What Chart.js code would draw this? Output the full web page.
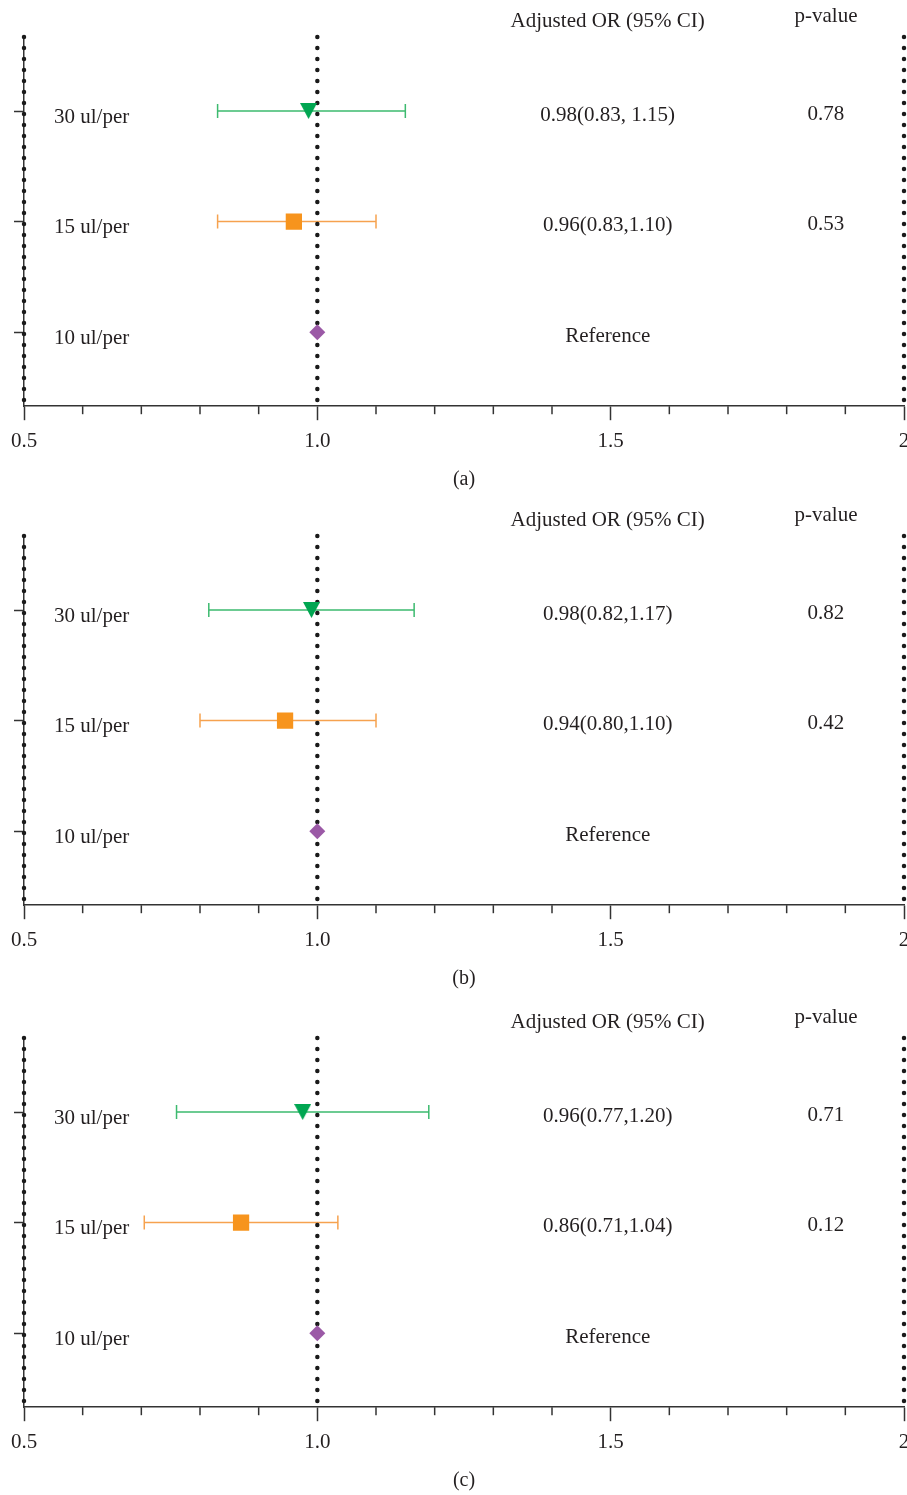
<!DOCTYPE html>
<html>
<head>
<meta charset="utf-8">
<script src="https://cdn.jsdelivr.net/npm/chart.js@4.4.1/dist/chart.umd.min.js"></script>
<style>
    body { margin: 0; background: #fff; width: 907px; height: 1495px; overflow: hidden; position: relative; }
    .panel { position: absolute; left: 0; width: 907px; height: 500px; }
</style>
</head>
<body>
<div class="panel" style="top:0px"><canvas id="chartA" width="907" height="500"></canvas></div>
<div class="panel" style="top:499px"><canvas id="chartB" width="907" height="500"></canvas></div>
<div class="panel" style="top:1001px"><canvas id="chartC" width="907" height="500"></canvas></div>
<script>
// rows from bottom to top
const rowValues = [1, 2, 3];
const categories = ['10 ul/per', '15 ul/per', '30 ul/per'];
const xTickValues = [0.5, 1.0, 1.5, 2];
const xTickLabels = ['0.5', '1.0', '1.5', '2'];
const refLines = [0.5, 1, 2];
const headerOR = 'Adjusted OR (95% CI)';
const headerP = 'p-value';

// panel (a)
const estA = [1, 0.96, 0.985];
const lowA = [null, 0.83, 0.83];
const highA = [null, 1.10, 1.15];
const orTextA = ['Reference', '0.96(0.83,1.10)', '0.98(0.83, 1.15)'];
const pTextA = ['', '0.53', '0.78'];

// panel (b)
const estB = [1, 0.945, 0.99];
const lowB = [null, 0.80, 0.815];
const highB = [null, 1.10, 1.165];
const orTextB = ['Reference', '0.94(0.80,1.10)', '0.98(0.82,1.17)'];
const pTextB = ['', '0.42', '0.82'];

// panel (c)
const estC = [1, 0.87, 0.975];
const lowC = [null, 0.705, 0.76];
const highC = [null, 1.035, 1.19];
const orTextC = ['Reference', '0.86(0.71,1.04)', '0.96(0.77,1.20)'];
const pTextC = ['', '0.12', '0.71'];

const FONT = '"Liberation Serif", "DejaVu Serif", serif';
const TEXT_COLOR = '#231f20';
const AXIS_COLOR = '#333333';
const Y_MIN = 0.33;
const Y_MAX = 3.67;

// down triangle drawn centered in its own box (chart.js triangle sits on its centroid)
function makeDownTriangle(w, h, color) {
    const c = document.createElement('canvas');
    c.width = w;
    c.height = h;
    const g = c.getContext('2d');
    g.fillStyle = color;
    g.beginPath();
    g.moveTo(0, 0);
    g.lineTo(w, 0);
    g.lineTo(w / 2, h);
    g.closePath();
    g.fill();
    return c;
}

// marker styles per row (10, 15, 30)
const markerColors = ['#9b59a6', '#f7941d', '#00a651'];
const markerStyles = ['rectRot', 'rect', makeDownTriangle(17, 16, markerColors[2])];
const markerRadius = [8, 11.5, 9];
const barColors = ['#9b59a6', '#f6a24f', '#3dba6f'];

function isMajor(value) {
    return xTickValues.some(v => Math.abs(v - value) < 1e-6);
}

// Error bars drawn under the markers
const errorBarPlugin = {
    id: 'errorBars',
    beforeDatasetsDraw(chart) {
        const { ctx, scales: { x, y } } = chart;
        const p = chart.options.plugins.errorBars;
        ctx.save();
        ctx.lineWidth = 1.5;
        rowValues.forEach((row, i) => {
            if (p.low[i] == null) return;
            const py = y.getPixelForValue(row);
            const x1 = x.getPixelForValue(p.low[i]);
            const x2 = x.getPixelForValue(p.high[i]);
            ctx.strokeStyle = barColors[i];
            ctx.beginPath();
            ctx.moveTo(x1, py);
            ctx.lineTo(x2, py);
            ctx.moveTo(x1, py - 7);
            ctx.lineTo(x1, py + 7);
            ctx.moveTo(x2, py - 7);
            ctx.lineTo(x2, py + 7);
            ctx.stroke();
        });
        ctx.restore();
    }
};

// Short minor ticks and the text table on the right
const extrasPlugin = {
    id: 'extras',
    afterDraw(chart) {
        const { ctx, chartArea, scales: { x, y } } = chart;
        const p = chart.options.plugins.extras;
        ctx.save();
        ctx.strokeStyle = AXIS_COLOR;
        ctx.lineWidth = 1.5;
        x.ticks.forEach(t => {
            if (isMajor(t.value)) return;
            const px = x.getPixelForValue(t.value);
            ctx.beginPath();
            ctx.moveTo(px, chartArea.bottom);
            ctx.lineTo(px, chartArea.bottom + 8);
            ctx.stroke();
        });

        ctx.fillStyle = TEXT_COLOR;
        ctx.font = '21px ' + FONT;
        ctx.textAlign = 'center';
        ctx.textBaseline = 'middle';
        const orX = x.getPixelForValue(1.495);
        const pX = x.getPixelForValue(1.867);
        ctx.fillText(headerOR, orX, chartArea.top - 16);
        ctx.fillText(headerP, pX, chartArea.top - 21);
        rowValues.forEach((row, i) => {
            const py = y.getPixelForValue(row);
            ctx.fillText(p.orText[i], orX, py + 4);
            if (p.pText[i]) ctx.fillText(p.pText[i], pX, py + 3);
        });
        ctx.restore();
    }
};

function buildPanel(canvasId, est, low, high, orText, pText, caption) {
    const ctx = document.getElementById(canvasId).getContext('2d');

    const dottedSets = refLines.map(v => ({
        type: 'line',
        data: [{ x: v, y: Y_MAX }, { x: v, y: Y_MIN }],
        borderColor: '#1a1a1a',
        borderWidth: 4.5,
        borderDash: [0, 11],
        borderCapStyle: 'round',
        pointRadius: 0,
        clip: false,
        order: 2
    }));

    return new Chart(ctx, {
        type: 'scatter',
        data: {
            datasets: [{
                data: rowValues.map((row, i) => ({ x: est[i], y: row })),
                pointStyle: markerStyles,
                pointRadius: markerRadius,
                backgroundColor: markerColors,
                borderColor: markerColors,
                borderWidth: 0,
                order: 0
            }, ...dottedSets]
        },
        options: {
            responsive: false,
            animation: false,
            layout: { autoPadding: false, padding: { top: 37, left: 14, right: 3, bottom: 8.6 } },
            scales: {
                x: {
                    type: 'linear',
                    min: 0.5,
                    max: 2,
                    afterFit: (scale) => { scale.paddingLeft = 0; scale.paddingRight = 0; },
                    ticks: {
                        stepSize: 0.1,
                        autoSkip: false,
                        maxRotation: 0,
                        padding: 9,
                        color: TEXT_COLOR,
                        font: { family: FONT, size: 21 },
                        callback: function(value) {
                            const idx = xTickValues.findIndex(v => Math.abs(v - value) < 1e-6);
                            return idx === -1 ? '' : xTickLabels[idx];
                        }
                    },
                    grid: {
                        drawOnChartArea: false,
                        tickLength: 14,
                        tickWidth: 1.5,
                        tickColor: (c) => isMajor(c.tick.value) ? AXIS_COLOR : 'rgba(0,0,0,0)'
                    },
                    border: { color: AXIS_COLOR, width: 1.5 },
                    title: {
                        display: true,
                        text: caption,
                        color: TEXT_COLOR,
                        font: { family: FONT, size: 20 },
                        padding: { top: 4, bottom: 0 }
                    }
                },
                y: {
                    type: 'linear',
                    min: Y_MIN,
                    max: Y_MAX,
                    afterBuildTicks: (scale) => { scale.ticks = rowValues.map(v => ({ value: v })); },
                    afterFit: (scale) => {
                        scale.width = 10;
                        scale.paddingTop = 0;
                        scale.paddingBottom = 0;
                    },
                    ticks: {
                        mirror: true,
                        padding: 30,
                        labelOffset: 6,
                        color: TEXT_COLOR,
                        font: { family: FONT, size: 21 },
                        callback: (value) => categories[rowValues.indexOf(value)]
                    },
                    grid: {
                        drawOnChartArea: false,
                        tickLength: 10,
                        tickWidth: 1.5,
                        tickColor: AXIS_COLOR
                    },
                    border: { color: AXIS_COLOR, width: 1.5 }
                }
            },
            plugins: {
                legend: { display: false },
                tooltip: { enabled: false },
                errorBars: { low: low, high: high },
                extras: { orText: orText, pText: pText }
            }
        },
        plugins: [errorBarPlugin, extrasPlugin]
    });
}

buildPanel('chartA', estA, lowA, highA, orTextA, pTextA, '(a)');
buildPanel('chartB', estB, lowB, highB, orTextB, pTextB, '(b)');
buildPanel('chartC', estC, lowC, highC, orTextC, pTextC, '(c)');
</script>
</body>
</html>
